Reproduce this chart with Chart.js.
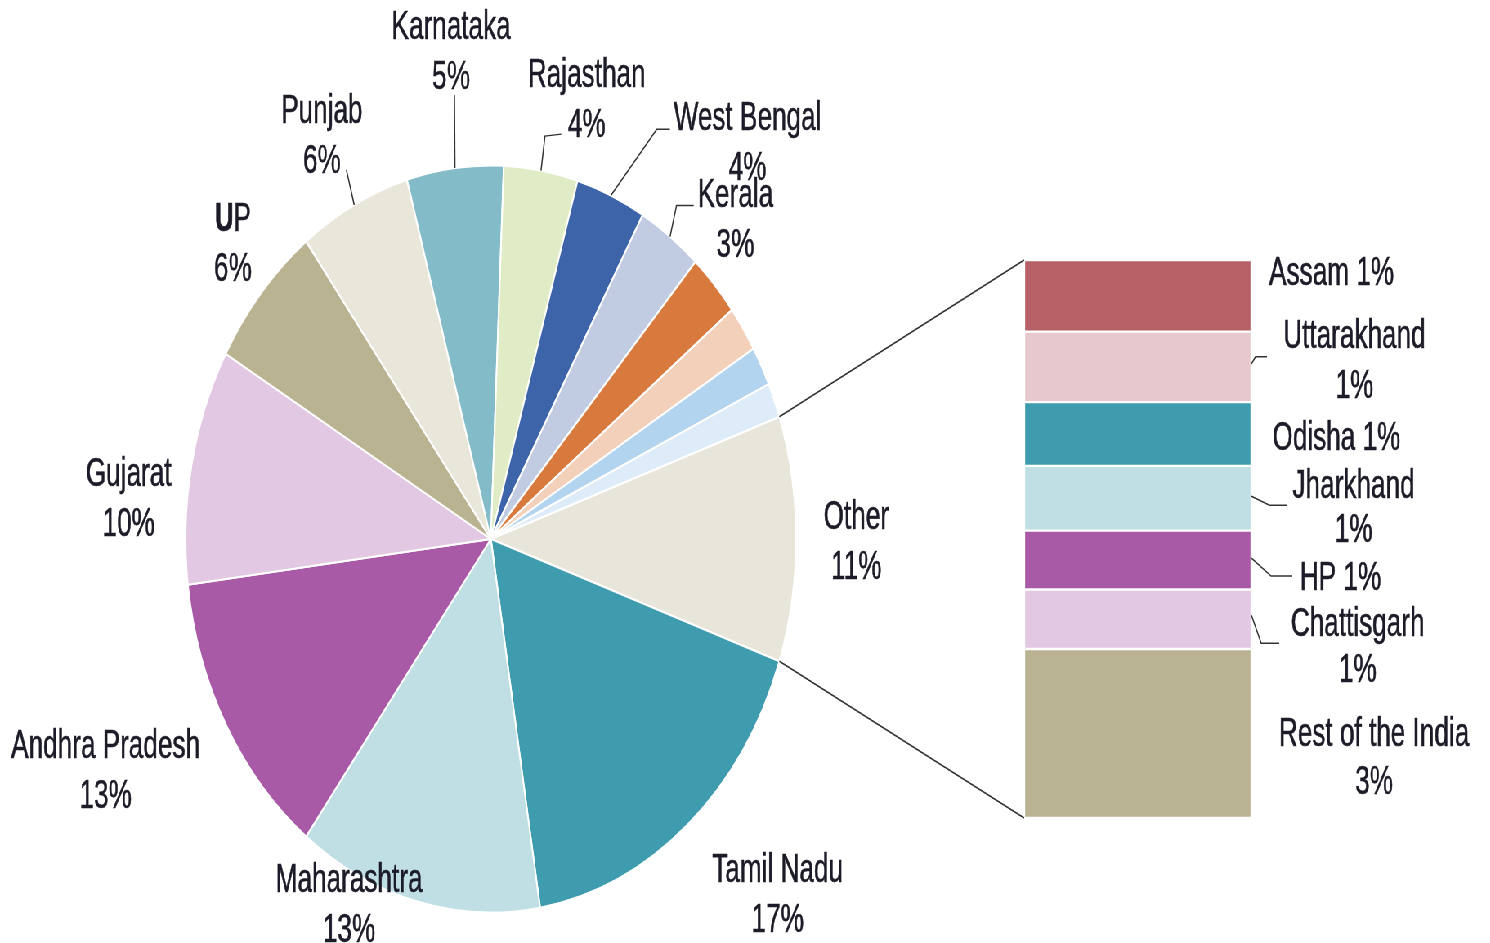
<!DOCTYPE html>
<html>
<head>
<meta charset="utf-8">
<title>State-wise share</title>
<script src="https://cdn.jsdelivr.net/npm/chart.js@4.4.0/dist/chart.umd.min.js"></script>
<style>
  html, body { margin: 0; padding: 0; background: #fff; overflow: hidden; }
  /* the original is squeezed sideways, so the whole stage is too */
  #stage { position: relative; width: 1823px; height: 943px; transform: scaleX(0.8174); transform-origin: 0 0; }
  #pieBox { position: absolute; left: 0; top: 0; }
  #barBox { position: absolute; left: 1180px; top: 0; }
</style>
</head>
<body>
<div id="stage">
  <div id="pieBox"><canvas id="pieChart" width="1823" height="943"></canvas></div>
  <div id="barBox"><canvas id="barChart" width="643" height="943"></canvas></div>
</div>
<script>
// Pie slices, clockwise starting with the "Other" wedge at 3 o'clock
const pieLabels = ['Other', 'Tamil Nadu', 'Maharashtra', 'Andhra Pradesh', 'Gujarat', 'UP', 'Punjab',
                   'Karnataka', 'Rajasthan', 'West Bengal', 'Kerala', '', '', '', ''];
const pieValues = [10.6, 17.1, 12.9, 12.7, 10.2, 6.4, 5.9, 5.1, 3.9, 3.7, 3.4, 2.8, 2.0, 1.7, 1.5];
const pieColors = ['#e8e5da', '#3f9cae', '#bfdfe4', '#a95aa7', '#e2c8e2', '#bab391', '#e9e6da',
                   '#83bcc8', '#dfecc5', '#3d63a9', '#c1cce2', '#d87a3d', '#f3d0ba', '#b3d4ee', '#deebf8'];

// Breakdown of "Other", top to bottom
const otherLabels = ['Assam', 'Uttarakhand', 'Odisha', 'Jharkhand', 'HP', 'Chattisgarh', 'Rest of the India'];
const otherValues = [1.36, 1.34, 1.21, 1.23, 1.12, 1.13, 3.21];
const otherColors = ['#b56166', '#e7c9cd', '#3f9cae', '#bfdfe4', '#a95aa7', '#e2c8e2', '#bab391'];

const FONT_SIZE = 41;
const LINE_GAP = 50;
const SQUEEZE = 0.78;       // extra narrowing to get the condensed look
const TEXT_COLOR = '#1c1c28';
const LINE_COLOR = '#333333';
const PIE_LABEL_SHIFT = 4;

// label placement: angle nudge from slice middle (deg), distance as multiple of radius,
// leader points relative to the label centre
const pieLabelSpots = {
    'Other':          { da: 0,    k: 1.197 },
    'Tamil Nadu':     { da: -4.8, k: 1.331 },
    'Maharashtra':    { da: 11.6, k: 1.076 },
    'Andhra Pradesh': { da: 4,    k: 1.403 },
    'Gujarat':        { da: -5.8, k: 1.192 },
    'UP':             { da: 2.1,  k: 1.162, boldFirst: true },
    'Punjab':         { da: -0.4, k: 1.22,  leader: [[30, 33]] },
    'Karnataka':      { da: 1.1,  k: 1.318, leader: [[4, 42]] },
    'Rajasthan':      { da: 5.4,  k: 1.224, leader: [[-51, 35], [-31, 33]] },
    'West Bengal':    { da: 15,   k: 1.361, leader: [[-111, -14], [-95, -14]] },
    'Kerala':         { da: 6.9,  k: 1.178, leader: [[-72, -15], [-51, -15]] }
};

// bar labels: offset from bar right edge / segment middle
const otherLabelSpots = [
    { dx: 98,  dy: -22, oneLine: true },
    { dx: 126, dy: -5,  leader: [[0, -3], [5, -10], [19, -10]] },
    { dx: 104, dy: 5,   oneLine: true },
    { dx: 125, dy: 10,  gap: 44, leader: [[0, -2], [22, 7], [44, 7]] },
    { dx: 109, dy: 19,  oneLine: true, leader: [[0, -2], [24, 16], [50, 16]] },
    { dx: 130, dy: 28,  gap: 46, leader: [[0, -4], [12, 24], [34, 24]] },
    { dx: 150, dy: 25,  gap: 48 }
];

const otherTotal = otherValues.reduce((a, b) => a + b, 0);
const pieTotal = pieValues.reduce((a, b) => a + b, 0);

function fontFor(weight) {
    return weight + ' ' + FONT_SIZE + 'px "Liberation Sans", Arial, sans-serif';
}

function squeezedText(ctx, str, x, y, weight, align) {
    ctx.save();
    ctx.translate(x, y);
    ctx.scale(SQUEEZE, 1);
    ctx.font = fontFor(weight || 'normal');
    ctx.textAlign = align || 'center';
    ctx.textBaseline = 'middle';
    ctx.fillStyle = TEXT_COLOR;
    ctx.strokeStyle = TEXT_COLOR;
    ctx.lineWidth = 0.6;
    ctx.fillText(str, 0, 0);
    ctx.strokeText(str, 0, 0);
    ctx.restore();
}

function drawLabel(ctx, name, pct, x, y, spot) {
    if (spot.oneLine) {
        squeezedText(ctx, name + ' ' + pct, x, y);
        return;
    }
    const gap = spot.gap || LINE_GAP;
    const y1 = y - gap / 2, y2 = y + gap / 2;
    if (spot.boldFirst) {
        // the source has the first letter in bold
        ctx.save();
        ctx.font = fontFor('bold');
        const w1 = ctx.measureText(name[0]).width * SQUEEZE;
        ctx.font = fontFor('normal');
        const w2 = ctx.measureText(name.slice(1)).width * SQUEEZE;
        ctx.restore();
        const x0 = x - (w1 + w2) / 2;
        squeezedText(ctx, name[0], x0, y1, 'bold', 'left');
        squeezedText(ctx, name.slice(1), x0 + w1, y1, 'normal', 'left');
    } else {
        squeezedText(ctx, name, x, y1);
    }
    squeezedText(ctx, pct, x, y2);
}

function drawLeader(ctx, x0, y0, pts, lx, ly) {
    ctx.beginPath();
    ctx.moveTo(x0, y0);
    pts.forEach(p => ctx.lineTo(lx + p[0], ly + p[1]));
    ctx.stroke();
}

const barLabelPlugin = {
    id: 'barLabels',
    afterDraw(chart) {
        const ctx = chart.ctx;
        ctx.save();
        ctx.strokeStyle = LINE_COLOR;
        ctx.lineWidth = 1.5;
        otherLabels.forEach((name, i) => {
            const bar = chart.getDatasetMeta(i).data[0];
            const right = bar.x + bar.width / 2;
            const mid = (bar.y + bar.base) / 2;
            const spot = otherLabelSpots[i];
            if (spot.leader) {
                ctx.strokeStyle = LINE_COLOR;
                ctx.lineWidth = 1.5;
                drawLeader(ctx, right + spot.leader[0][0], mid + spot.leader[0][1],
                           spot.leader.slice(1), right, mid);
            }
            drawLabel(ctx, name, Math.round(otherValues[i]) + '%', right + spot.dx, mid + spot.dy, spot);
        });
        ctx.restore();
    }
};

const barChart = new Chart(document.getElementById('barChart'), {
    type: 'bar',
    data: {
        labels: ['Other'],
        datasets: otherLabels.map((name, i) => ({
            label: name,
            data: [otherValues[i]],
            backgroundColor: otherColors[i],
            borderColor: '#ffffff',
            borderWidth: 1.5,
            borderSkipped: false,
            barPercentage: 1,
            categoryPercentage: 1
        }))
    },
    options: {
        responsive: false,
        animation: false,
        layout: { padding: { left: 73, right: 292, top: 260, bottom: 125 } },
        scales: {
            x: { display: false, stacked: true },
            y: { display: false, stacked: true, reverse: true, min: 0, max: otherTotal }
        },
        plugins: { legend: { display: false }, tooltip: { enabled: false } }
    },
    plugins: [barLabelPlugin]
});

const pieLabelPlugin = {
    id: 'pieLabels',
    afterDraw(chart) {
        const ctx = chart.ctx;
        const arcs = chart.getDatasetMeta(0).data;
        ctx.save();
        ctx.strokeStyle = LINE_COLOR;
        ctx.lineWidth = 1.6;

        // connectors from the "Other" wedge to the top and bottom of the breakdown bar
        const barOffset = document.getElementById('barBox').offsetLeft;
        const topBar = barChart.getDatasetMeta(0).data[0];
        const botBar = barChart.getDatasetMeta(otherLabels.length - 1).data[0];
        const barLeft = barOffset + topBar.x - topBar.width / 2;
        const o = arcs[0];
        ctx.beginPath();
        ctx.moveTo(o.x + o.outerRadius * Math.cos(o.startAngle), o.y + o.outerRadius * Math.sin(o.startAngle));
        ctx.lineTo(barLeft, Math.min(topBar.y, topBar.base));
        ctx.moveTo(o.x + o.outerRadius * Math.cos(o.endAngle), o.y + o.outerRadius * Math.sin(o.endAngle));
        ctx.lineTo(barLeft, Math.max(botBar.y, botBar.base));
        ctx.stroke();

        pieLabels.forEach((name, i) => {
            const spot = pieLabelSpots[name];
            if (!spot) return;
            const a = arcs[i];
            const mid = (a.startAngle + a.endAngle) / 2;
            const ang = mid + spot.da * Math.PI / 180;
            const r = a.outerRadius * spot.k;
            const lx = a.x + r * Math.cos(ang);
            const ly = a.y + r * Math.sin(ang) + PIE_LABEL_SHIFT;
            if (spot.leader) {
                ctx.strokeStyle = LINE_COLOR;
                ctx.lineWidth = 1.5;
                drawLeader(ctx, a.x + a.outerRadius * Math.cos(mid), a.y + a.outerRadius * Math.sin(mid),
                           spot.leader, lx, ly);
            }
            drawLabel(ctx, name, Math.round(pieValues[i]) + '%', lx, ly, spot);
        });
        ctx.restore();
    }
};

new Chart(document.getElementById('pieChart'), {
    type: 'pie',
    data: {
        labels: pieLabels,
        datasets: [{
            data: pieValues,
            backgroundColor: pieColors,
            borderColor: '#ffffff',
            borderWidth: 2,
            hoverOffset: 0
        }]
    },
    options: {
        responsive: false,
        animation: false,
        // centre the "Other" wedge on 3 o'clock
        rotation: 90 - (pieValues[0] / pieTotal) * 180,
        radius: 373.5,
        layout: { padding: { left: 227, right: 849, top: 166, bottom: 31 } },
        plugins: { legend: { display: false }, tooltip: { enabled: false } }
    },
    plugins: [pieLabelPlugin]
});
</script>
</body>
</html>
